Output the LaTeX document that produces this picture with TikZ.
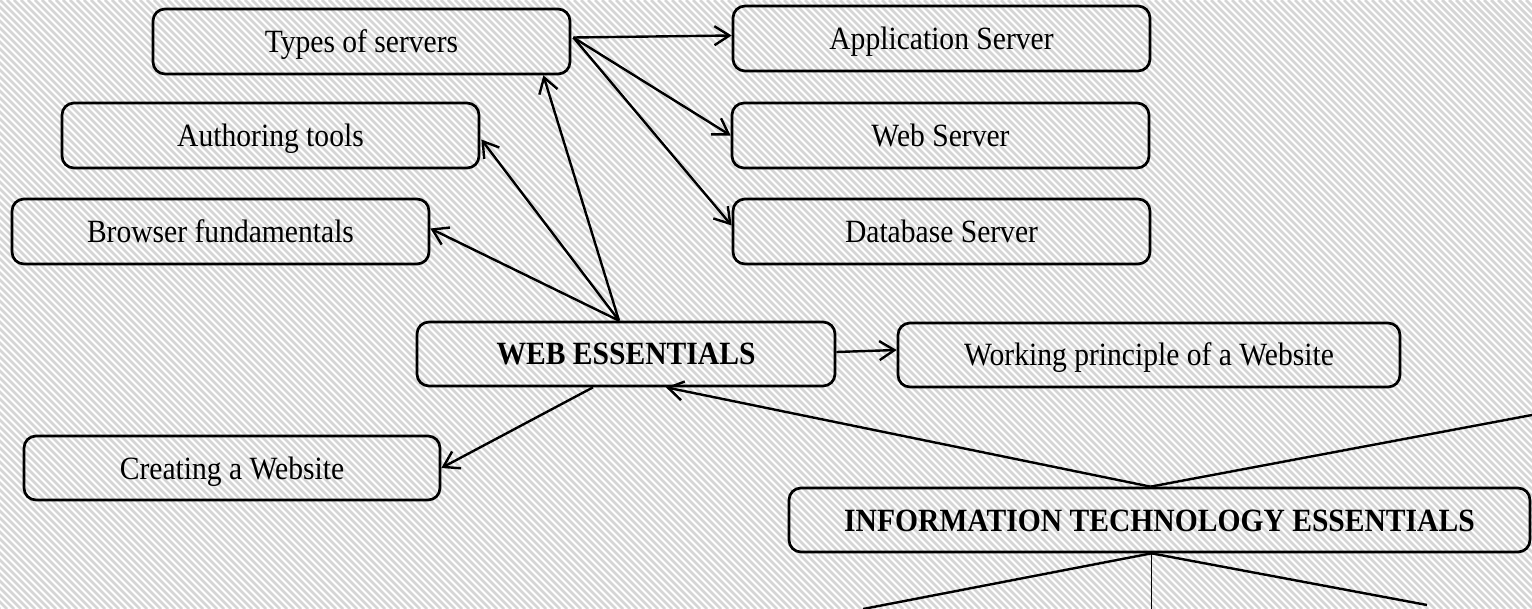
\documentclass[tikz,border=0pt]{standalone}
\usepackage{fontspec}
\setmainfont{Liberation Serif}
\usetikzlibrary{arrows.meta,calc}
\newcommand\tx[1]{\scalebox{1.02}[1.12]{#1}}
\begin{document}
\begin{tikzpicture}[x=1pt,y=-1pt,
  box/.style={draw, line width=2.7pt, rounded corners=12pt, minimum height=65pt, inner sep=0pt, text height=24pt, text depth=2pt, font=\fontsize{29}{34}\selectfont},
  bbox/.style={box, font=\fontsize{29}{34}\selectfont\bfseries},
  arr/.style={line width=2.4pt, -{Straight Barb[length=15pt,width=19pt,line width=2.4pt]}},
  ln/.style={line width=2.4pt}]
\useasboundingbox (0,0) rectangle (1532,609);
\begin{scope}
  \clip (0,0) rectangle (1532,609);
  \foreach \i in {-90,...,220} \draw[gray!33, line width=2.8pt] (\i*7,0) -- ++(609,609);
\end{scope}
\node[box, minimum width=417pt] (ts) at (361.5,41.5) {\tx{Types of servers}};
\node[box, minimum width=417pt] (as) at (941.5,38.5) {\tx{Application Server}};
\node[box, minimum width=417pt] (at) at (270.5,135.5) {\tx{Authoring tools}};
\node[box, minimum width=417pt] (ws) at (940.5,135.5) {\tx{Web Server}};
\node[box, minimum width=417pt] (bf) at (220.5,231.5) {\tx{Browser fundamentals}};
\node[box, minimum width=417pt] (ds) at (941.5,231.5) {\tx{Database Server}};
\node[bbox, minimum width=418pt, minimum height=64pt] (we) at (626,354) {\tx{WEB ESSENTIALS}};
\node[box, minimum width=502pt, minimum height=64pt] (wp) at (1149,355) {\tx{Working principle of a Website}};
\node[box, minimum width=416pt, minimum height=64pt] (cw) at (232,468) {\tx{Creating a Website}};
\node[bbox, minimum width=741pt, minimum height=64pt] (it) at (1159.5,520) {\tx{INFORMATION TECHNOLOGY ESSENTIALS}};
\coordinate (s1) at ($(ts.east)+(2,-4)$);
\draw[arr] (s1) -- ($(as.west)+(0,-3)$);
\draw[arr] (s1) -- (ws.west);
\draw[arr] (s1) -- ($(ds.west)+(0,-6)$);
\coordinate (p) at ($(we.north)+(-7,0)$);
\draw[arr] (p) -- ($(ts.south east)+(-28,0)$);
\draw[arr] (p) -- ($(at.east)+(1,4)$);
\draw[arr] (p) -- ($(bf.east)+(0,-3)$);
\draw[arr] ($(we.east)+(0,-2)$) -- ($(wp.west)+(0,-5)$);
\draw[arr] ($(we.south)+(-33,0)$) -- (cw.east);
\coordinate (q) at ($(it.north)+(-9,0)$);
\draw[arr] (q) -- ($(we.south)+(40,0)$);
\coordinate (e1) at (1532,415);
\draw[ln] (q) -- (e1);
\coordinate (r) at ($(it.south)+(-8,0)$);
\coordinate (e2) at (863,609);
\coordinate (e3) at (1151.5,609);
\coordinate (e4) at (1427,605);
\draw[ln] (r) -- (e2);
\draw[line width=1.8pt] (r) -- (e3);
\draw[ln] (r) -- (e4);
\end{tikzpicture}
\end{document}
